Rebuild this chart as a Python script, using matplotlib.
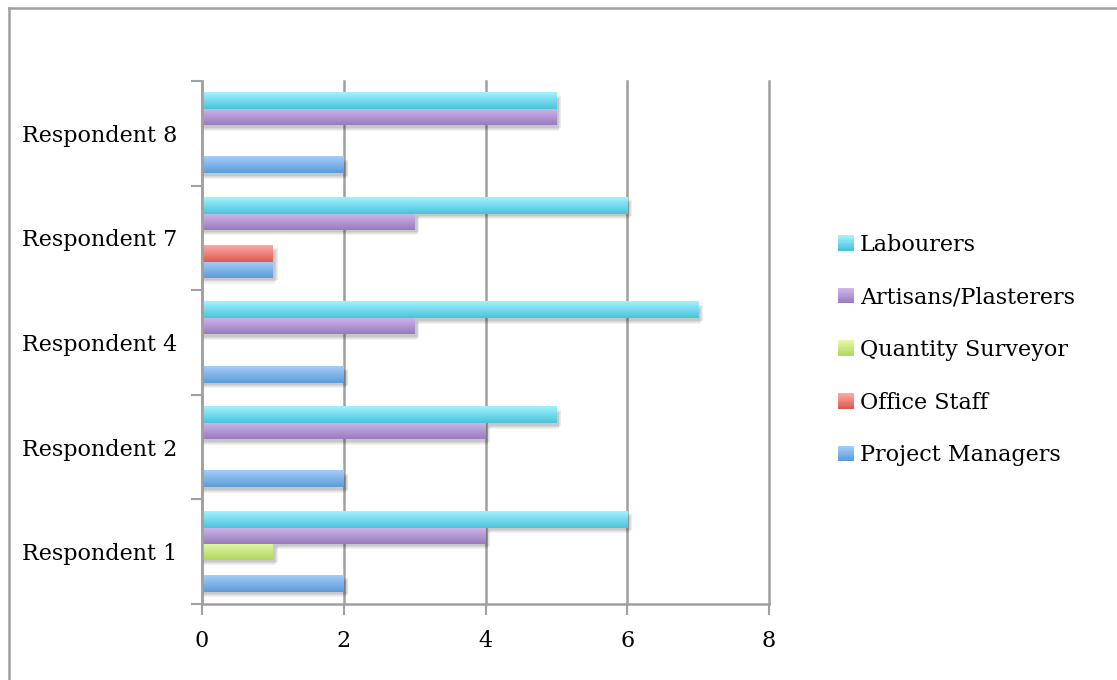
import numpy as np
import matplotlib
matplotlib.use('Agg')
import matplotlib.pyplot as plt
from matplotlib.patches import Rectangle
from matplotlib.lines import Line2D
from matplotlib.legend_handler import HandlerBase

plt.rcParams['font.family'] = ['DejaVu Serif']

respondents = ['Respondent 1', 'Respondent 2', 'Respondent 4', 'Respondent 7', 'Respondent 8']
series = ['Project Managers', 'Office Staff', 'Quantity Surveyor', 'Artisans/Plasterers', 'Labourers']
project_managers = [2, 2, 2, 1, 2]
office_staff = [0, 0, 0, 1, 0]
quantity_surveyor = [1, 0, 0, 0, 0]
artisans = [4, 4, 3, 3, 5]
labourers = [6, 5, 7, 6, 5]
values = [project_managers, office_staff, quantity_surveyor, artisans, labourers]

# top / bottom colours of each bar gradient
shades = [('#a6cdf9', '#5b9bd9'),
          ('#fdaaa5', '#df5a50'),
          ('#e2f7a6', '#b1d760'),
          ('#cdb8ea', '#9a7bbf'),
          ('#a2f1fd', '#4ac4dc')]

fig = plt.figure(figsize=(11.17, 6.8), dpi=100)
ax = fig.add_axes([202 / 1117, 1 - 604 / 680, (769 - 202) / 1117, (604 - 81) / 680])

bar_h = 0.153
y = np.arange(len(respondents))
offsets = (np.arange(len(series)) - 2) * bar_h


def gradient(c_top, c_bot, n=64):
    a = np.array(matplotlib.colors.to_rgb(c_top))
    b = np.array(matplotlib.colors.to_rgb(c_bot))
    t = np.linspace(0, 1, n)[:, None]
    return (a * (1 - t) + b * t)[:, None, :]


class GradientBox(HandlerBase):
    # legend key painted as a stack of thin stripes, light on top
    def create_artists(self, legend, orig_handle, xdescent, ydescent, width, height, fontsize, trans):
        top, bot = orig_handle.shade
        cols = gradient(top, bot, 12)[:, 0, :]
        side = min(width, height)
        n = len(cols)
        out = []
        for j, c in enumerate(cols):
            out.append(Rectangle((-xdescent, -ydescent + side * (n - 1 - j) / n), side, side / n,
                                 facecolor=c, edgecolor='none', transform=trans))
        return out


for i, name in enumerate(series):
    bars = ax.barh(y + offsets[i], values[i], height=bar_h, color=shades[i][1],
                   linewidth=0, zorder=3)
    for p in bars:
        w = p.get_width()
        if w <= 0:
            continue
        x0, y0, h = p.get_x(), p.get_y(), p.get_height()
        # soft drop shadow
        for k, a in enumerate([0.05, 0.05, 0.06, 0.07]):
            d = 0.03 + k * 0.012
            ax.add_patch(Rectangle((x0, y0 - h * 0.35 + k * 0.01), w + d, h,
                                   facecolor='black', alpha=a, linewidth=0, zorder=2))
        ax.imshow(gradient(*shades[i]), extent=(x0, x0 + w, y0, y0 + h),
                  origin='upper', aspect='auto', interpolation='bilinear', zorder=4)

ax.set_xlim(0, 8)
ax.set_ylim(-0.5, len(respondents) - 0.5)
ax.set_xticks([0, 2, 4, 6, 8])
ax.set_yticks(np.arange(len(respondents) + 1) - 0.5)
ax.set_yticklabels([])
ax.set_yticks(y, minor=True)
ax.set_yticklabels(respondents, minor=True)
ax.tick_params(axis='y', which='minor', length=0, pad=18, labelsize=16)
ax.tick_params(axis='y', which='major', length=8, width=1.5, color='#a0a0a0')
ax.tick_params(axis='x', length=8, width=1.5, color='#a0a0a0', pad=11, labelsize=16)
ax.grid(axis='x', color='#a0a0a0', linewidth=1.8, zorder=1)
for g in ax.get_xgridlines():
    g.set_clip_on(False)
ax.set_axisbelow(True)
for s in ['top', 'right']:
    ax.spines[s].set_visible(False)
for s in ['left', 'bottom']:
    ax.spines[s].set_color('#a0a0a0')
    ax.spines[s].set_linewidth(1.8)
ax.spines['left'].set_zorder(5)

handles = []
for i in range(len(series)):
    h = Rectangle((0, 0), 1, 1)
    h.shade = shades[i]
    handles.append(h)
fig.legend(handles[::-1], series[::-1], loc='center left',
           bbox_to_anchor=(818 / 1117, 1 - 350 / 680),
           handler_map={Rectangle: GradientBox()},
           frameon=False, fontsize=16, handlelength=0.7, handleheight=0.7,
           handletextpad=0.3, labelspacing=1.38)

# outer frame
fig.add_artist(Line2D([9 / 1117, 9 / 1117], [0, 1 - 8 / 680], color='#a0a0a0', lw=1.8))
fig.add_artist(Line2D([9 / 1117, 1], [1 - 8 / 680, 1 - 8 / 680], color='#a0a0a0', lw=1.8))

fig.savefig('out.png', dpi=100)
